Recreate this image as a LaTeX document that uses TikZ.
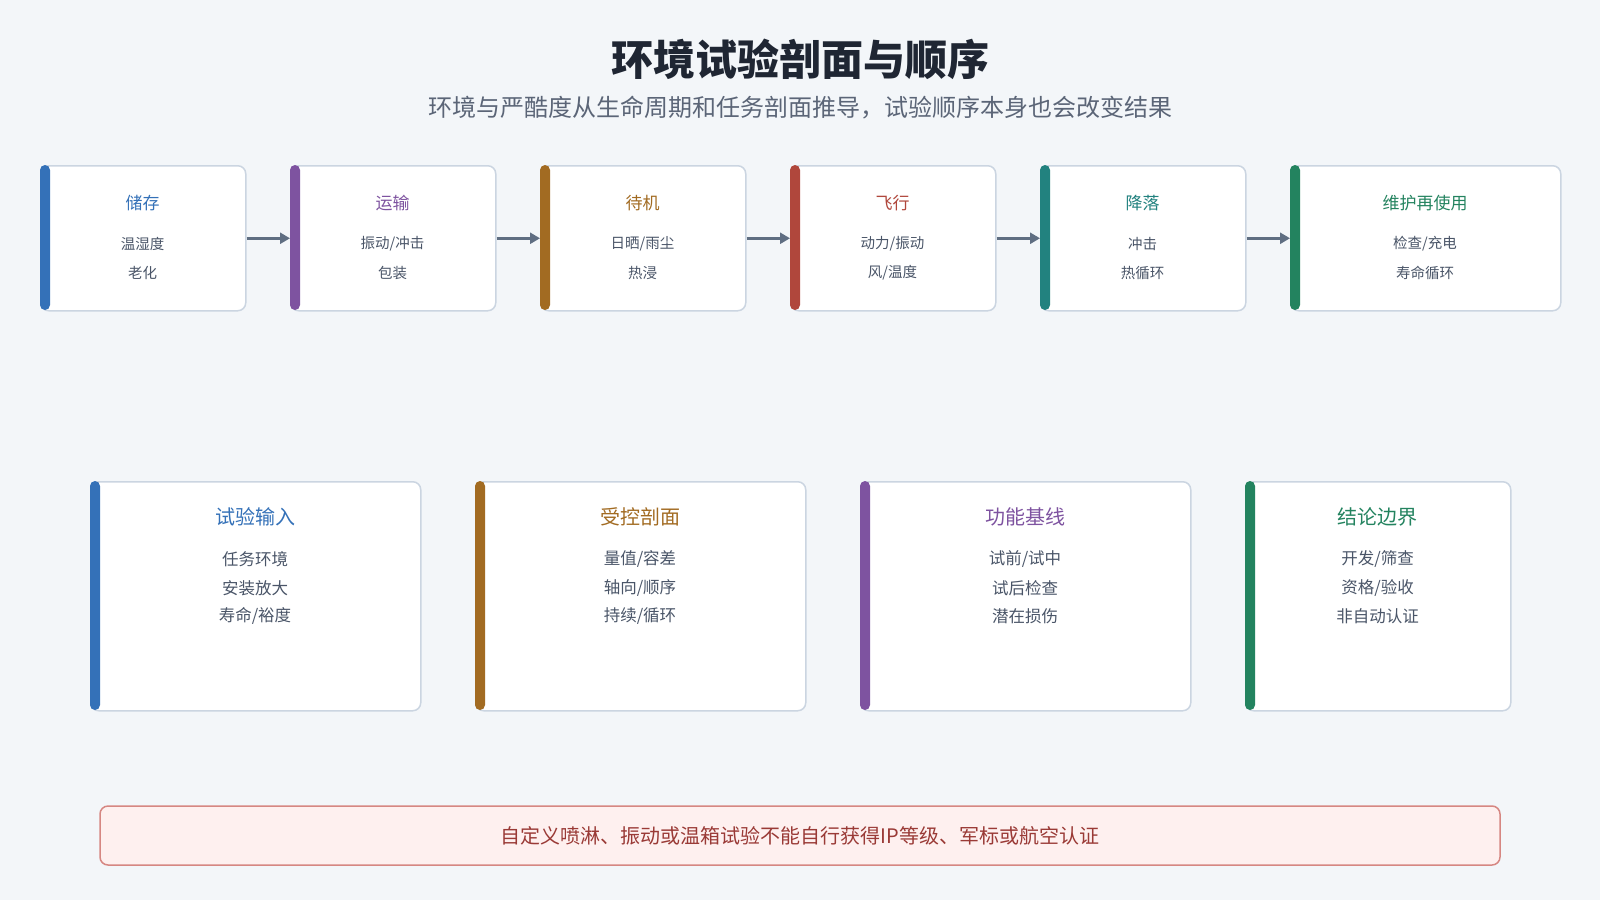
\documentclass[tikz,border=0pt]{standalone}
\usepackage{fontspec}
\setmainfont{Noto Sans CJK SC}
\usetikzlibrary{arrows.meta}
\definecolor{bg}{HTML}{F3F6F9}
\definecolor{bord}{HTML}{CBD5E1}
\definecolor{bodytxt}{HTML}{4A5568}
\definecolor{titletxt}{HTML}{1F2633}
\definecolor{subtxt}{HTML}{5B6577}
\definecolor{cblue}{HTML}{3471B8}
\definecolor{cpurple}{HTML}{7E53A0}
\definecolor{cbrown}{HTML}{A26B22}
\definecolor{cred}{HTML}{B0473C}
\definecolor{cteal}{HTML}{22827F}
\definecolor{cgreen}{HTML}{23835F}
\definecolor{arrcol}{HTML}{5F6E82}
\definecolor{banfill}{HTML}{FEF0EF}
\definecolor{banbord}{HTML}{D68782}
\definecolor{bantxt}{HTML}{9A3A36}
\tikzset{
  card/.style={draw=bord, line width=1.5pt, fill=white, rounded corners=8pt, rectangle, anchor=north west, inner sep=0pt},
  stitle/.style={font=\fontsize{17}{20}\selectfont, text=#1, inner sep=0pt},
  sbody/.style={font=\fontsize{14.5}{17}\selectfont, text=bodytxt, inner sep=0pt},
  btitle/.style={font=\fontsize{20}{24}\selectfont, text=#1, inner sep=0pt},
  bbody/.style={font=\fontsize{16.5}{20}\selectfont, text=bodytxt, inner sep=0pt},
  arr/.style={draw=arrcol, line width=3.5pt, -{Triangle[length=10pt,width=11pt]}},
}
\begin{document}
\begin{tikzpicture}[x=1pt,y=-1pt]
\fill[bg] (0,0) rectangle (1600,900);
\useasboundingbox (0,0) rectangle (1600,900);

\node[font=\bfseries\fontsize{42}{48}\selectfont, text=titletxt, inner sep=0pt] (title) at (800,59) {环境试验剖面与顺序};
\node[font=\fontsize{24}{28}\selectfont, text=subtxt, inner sep=0pt] (subtitle) at (800,108) {环境与严酷度从生命周期和任务剖面推导，试验顺序本身也会改变结果};

% top row
\foreach \i/\x/\w/\c/\t/\a/\b in {
  1/40/205/cblue/储存/温湿度/老化,
  2/290/205/cpurple/运输/{振动/冲击}/包装,
  3/540/205/cbrown/待机/{日晒/雨尘}/热浸,
  4/790/205/cred/飞行/{动力/振动}/{风/温度},
  5/1040/205/cteal/降落/冲击/热循环,
  6/1290/270/cgreen/维护再使用/{检查/充电}/寿命循环}{
  \node[card, minimum width=\w pt, minimum height=145pt] (s\i) at (\x,165) {};
  \fill[\c, rounded corners=5pt] (\x,165) rectangle (\x+10,310);
  \node[stitle=\c] (s\i t) at (\x+\w/2,203) {\t};
  \node[sbody] (s\i a) at (\x+\w/2,244) {\a};
  \node[sbody] (s\i b) at (\x+\w/2,273) {\b};
}
\foreach \i/\j in {1/2,2/3,3/4,4/5,5/6}{
  \draw[arr] (s\i.east) -- (s\j.west);
}

% bottom row
\foreach \i/\x/\w/\c/\t/\a/\b/\d in {
  1/90/330/cblue/试验输入/任务环境/安装放大/{寿命/裕度},
  2/475/330/cbrown/受控剖面/{量值/容差}/{轴向/顺序}/{持续/循环},
  3/860/330/cpurple/功能基线/{试前/试中}/试后检查/潜在损伤,
  4/1245/265/cgreen/结论边界/{开发/筛查}/{资格/验收}/非自动认证}{
  \node[card, minimum width=\w pt, minimum height=229pt] (c\i) at (\x,481) {};
  \fill[\c, rounded corners=5pt] (\x,481) rectangle (\x+10,710);
  \node[btitle=\c] (c\i t) at (\x+\w/2,517) {\t};
  \node[bbody] (c\i a) at (\x+\w/2,559) {\a};
  \node[bbody] (c\i b) at (\x+\w/2,588) {\b};
  \node[bbody] (c\i c) at (\x+\w/2,616) {\d};
}

% banner
\node[draw=banbord, fill=banfill, line width=1.5pt, rounded corners=8pt, minimum width=1400pt, minimum height=59pt, inner sep=0pt] (banner) at (800,835.5) {};
\node[font=\fontsize{20}{24}\selectfont, text=bantxt, inner sep=0pt] (bantext) at (800,835.5) {自定义喷淋、振动或温箱试验不能自行获得IP等级、军标或航空认证};
\end{tikzpicture}
\end{document}
